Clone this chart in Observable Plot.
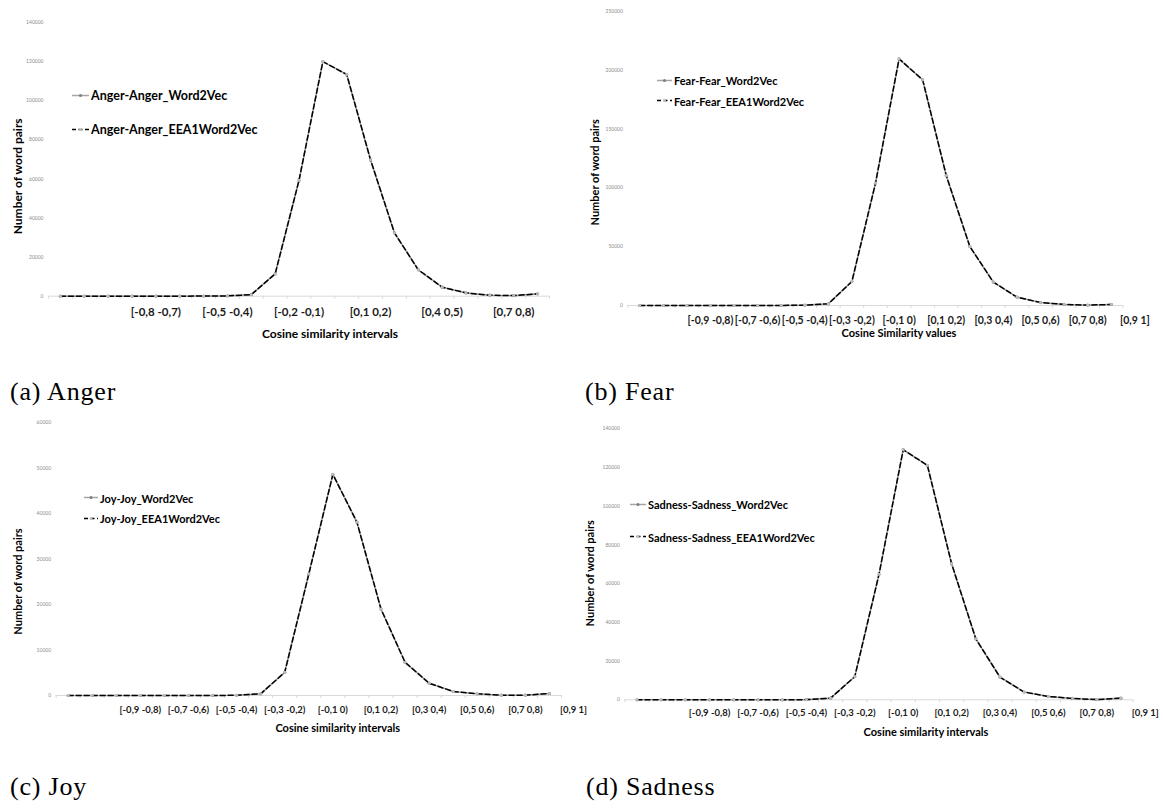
<!DOCTYPE html>
<html><head><meta charset="utf-8">
<script src="https://cdn.jsdelivr.net/npm/d3@7"></script>
<script src="https://cdn.jsdelivr.net/npm/@observablehq/plot@0.6"></script>
<style>
html,body{margin:0;padding:0;background:#fff;}
#page{position:relative;width:1163px;height:808px;overflow:hidden;font-family:Lato,sans-serif;background:#fff;}
.panel{position:absolute;}
.panel svg{overflow:visible;}
.caption{position:absolute;font-family:"Liberation Serif","Times New Roman",serif;font-size:26px;line-height:26px;letter-spacing:0.8px;color:#000;white-space:nowrap;}
.legend{position:absolute;font-family:Lato,sans-serif;font-weight:bold;color:#000;}
.legend .row{position:absolute;left:0;white-space:nowrap;display:flex;align-items:center;transform:translateY(-50%);}
.legend svg{display:block;}
</style></head>
<body><div id="page"></div>
<script>
// ---- data ----
const categoryIndex = [0,1,2,3,4,5,6,7,8,9,10,11,12,13,14,15,16,17,18,19,20];

const angerTicks = [4,7,10,13,16,19];
const angerTickLabels = ["[-0,8 -0,7)","[-0,5 -0,4)","[-0,2 -0,1)","[0,1 0,2)","[0,4 0,5)","[0,7 0,8)"];
const pairTicks = [3,5,7,9,11,13,15,17,19,21];
const pairTickLabels = ["[-0,9 -0,8)","[-0,7 -0,6)","[-0,5 -0,4)","[-0,3 -0,2)","[-0,1 0)","[0,1 0,2)","[0,3 0,4)","[0,5 0,6)","[0,7 0,8)","[0,9 1]"];

const angerYTicks = [0,20000,40000,60000,80000,100000,120000,140000];
const fearYTicks = [0,50000,100000,150000,200000,250000];
const joyYTicks = [0,10000,20000,30000,40000,50000,60000];
const sadnessYTicks = [0,20000,40000,60000,80000,100000,120000,140000];

const angerWord2Vec = [20,20,20,20,30,30,50,150,800,11400,59200,120000,113400,69700,32400,13500,4600,1700,500,300,1200];
const angerEEA1Word2Vec = [20,20,20,20,30,30,50,150,800,11400,59200,120000,113400,69700,32400,13500,4600,1700,500,300,1200];
const fearWord2Vec = [0,0,0,0,0,0,50,300,1400,20400,103900,209500,191700,110400,50100,19800,7100,2500,900,300,900];
const fearEEA1Word2Vec = [0,0,0,0,0,0,50,300,1400,20400,103900,209500,191700,110400,50100,19800,7100,2500,900,300,900];
const joyWord2Vec = [0,0,0,0,0,0,0,50,370,5100,26700,48600,38100,19000,7300,2700,880,370,70,70,440];
const joyEEA1Word2Vec = [0,0,0,0,0,0,0,50,370,5100,26700,48600,38100,19000,7300,2700,880,370,70,70,440];
const sadnessWord2Vec = [0,0,0,0,0,0,0,100,860,12000,64800,129200,121100,70300,31500,11700,4000,1700,700,100,860];
const sadnessEEA1Word2Vec = [0,0,0,0,0,0,0,100,860,12000,64800,129200,121100,70300,31500,11700,4000,1700,700,100,860];

const seriesNames = {
  anger: ["Anger-Anger_Word2Vec","Anger-Anger_EEA1Word2Vec"],
  fear: ["Fear-Fear_Word2Vec","Fear-Fear_EEA1Word2Vec"],
  joy: ["Joy-Joy_Word2Vec","Joy-Joy_EEA1Word2Vec"],
  sadness: ["Sadness-Sadness_Word2Vec","Sadness-Sadness_EEA1Word2Vec"]
};
const captions = ["(a) Anger","(b) Fear","(c) Joy","(d) Sadness"];
const xTitles = ["Cosine similarity intervals","Cosine Similarity values","Cosine similarity intervals","Cosine similarity intervals"];
const yTitle = "Number of word pairs";

// ---- layout ----
const panels = [
  {key:"anger", s1:angerWord2Vec, s2:angerEEA1Word2Vec, ticks:angerTicks, tickLabels:angerTickLabels, yTicks:angerYTicks, ymax:140000,
   left:0, top:0, w:580, h:345, mt:22, mb:49.3, ml:48, mr:31, xfs:11.5, xpad:12, xtdx:31, xtdy:37.6, xtfs:12, ytdx:-30.3, ytdy:17, ytfs:12,
   leg:{x:72, y1:95, y2:129, len:17, fs:12.5}, cap:{x:10, y:379}, xTitle:xTitles[0]},
  {key:"fear", s1:fearWord2Vec, s2:fearEEA1Word2Vec, ticks:pairTicks, tickLabels:pairTickLabels, yTicks:fearYTicks, ymax:250000,
   left:580, top:0, w:583, h:345, mt:10.7, mb:40, ml:47.4, mr:40.4, xfs:10.5, xpad:11.5, xtdx:23.5, xtdy:28, xtfs:11, ytdx:-32.4, ytdy:14, ytfs:11,
   leg:{x:657, y1:80, y2:100.7, len:15, fs:11}, cap:{x:585, y:379}, xTitle:xTitles[1]},
  {key:"joy", s1:joyWord2Vec, s2:joyEEA1Word2Vec, ticks:pairTicks, tickLabels:pairTickLabels, yTicks:joyYTicks, ymax:60000,
   left:0, top:400, w:580, h:345, mt:22, mb:50, ml:55.6, mr:19, xfs:9.5, xpad:10.5, xtdx:29, xtdy:33.3, xtfs:11, ytdx:-37.8, ytdy:22.5, ytfs:11,
   leg:{x:84, y1:497.7, y2:518.3, len:14, fs:11}, cap:{x:10, y:774}, xTitle:xTitles[2]},
  {key:"sadness", s1:sadnessWord2Vec, s2:sadnessEEA1Word2Vec, ticks:pairTicks, tickLabels:pairTickLabels, yTicks:sadnessYTicks, ymax:140000,
   left:580, top:400, w:583, h:345, mt:28.3, mb:45.7, ml:44.4, mr:30.4, xfs:9.5, xpad:9, xtdx:47, xtdy:32.4, xtfs:11, ytdx:-34, ytdy:9, ytfs:11,
   leg:{x:630, y1:504.3, y2:536.7, len:16, fs:11}, cap:{x:586, y:774}, xTitle:xTitles[3]}
];

const page = document.getElementById("page");
const boundaries = d3.range(-0.5, 21, 1);

panels.forEach((p, pi) => {
  const rows = categoryIndex.map((c, i) => ({c, a: p.s1[i], b: p.s2[i]}));
  const labelMap = new Map(p.ticks.map((t, i) => [t, p.tickLabels[i]]));
  const chart = Plot.plot({
    width: p.w, height: p.h,
    marginTop: p.mt, marginBottom: p.mb, marginLeft: p.ml, marginRight: p.mr,
    style: {fontFamily: "Lato, sans-serif", background: "transparent", overflow: "visible"},
    x: {domain: [-0.5, 20.5]},
    y: {domain: [0, p.ymax]},
    marks: [
      Plot.ruleY([0], {stroke: "#d9d9d9", strokeWidth: 1}),
      Plot.axisX({ticks: boundaries, tickSize: 3, tickFormat: () => "", color: "#d9d9d9", label: null}),
      Plot.axisX({ticks: p.ticks, tickSize: 0, tickPadding: p.xpad, tickFormat: d => labelMap.get(d),
                  fontSize: p.xfs, fontWeight: "bold", color: "#1a1a1a", label: null}),
      Plot.axisY({ticks: p.yTicks, tickSize: 0, tickPadding: 5, tickFormat: d => String(d),
                  fontSize: 5, color: "#8c8c8c", label: null}),
      Plot.line(rows, {x: "c", y: "a", stroke: "#a6a6a6", strokeWidth: 1.6}),
      Plot.line(rows, {x: "c", y: "b", stroke: "#000", strokeWidth: 1.5, strokeDasharray: "5,3"}),
      Plot.dot(rows, {x: "c", y: "a", r: 1.6, fill: "#7f7f7f"}),
      Plot.dot(rows, {x: "c", y: "b", r: 1.4, fill: "#bfbfbf"}),
      Plot.text([p.xTitle], {text: d => d, frameAnchor: "bottom", dx: p.xtdx, dy: p.xtdy, lineAnchor: "middle",
                  fontWeight: "bold", fontSize: p.xtfs, fill: "#000"}),
      Plot.text([yTitle], {text: d => d, frameAnchor: "left", rotate: -90, dx: p.ytdx, dy: p.ytdy, lineAnchor: "middle",
                  textAnchor: "middle", fontWeight: "bold", fontSize: p.ytfs, fill: "#000"})
    ]
  });
  const holder = document.createElement("div");
  holder.className = "panel";
  holder.style.left = p.left + "px";
  holder.style.top = p.top + "px";
  holder.appendChild(chart);
  page.appendChild(holder);

  // legend
  const names = seriesNames[p.key];
  const leg = document.createElement("div");
  leg.className = "legend";
  leg.style.left = p.leg.x + "px";
  leg.style.top = "0px";
  leg.style.fontSize = p.leg.fs + "px";
  const L = p.leg.len;
  const sw = [
    `<svg width="${L+2}" height="8"><line x1="0" y1="4" x2="${L}" y2="4" stroke="#a6a6a6" stroke-width="1.5"/><circle cx="${L/2}" cy="4" r="1.5" fill="#7f7f7f"/></svg>`,
    `<svg width="${L+2}" height="8"><line x1="0" y1="4" x2="${L}" y2="4" stroke="#000" stroke-width="1.5" stroke-dasharray="4,2.5"/><circle cx="${L/2}" cy="4" r="1.4" fill="#bfbfbf"/></svg>`
  ];
  [p.leg.y1, p.leg.y2].forEach((yy, k) => {
    const r = document.createElement("div");
    r.className = "row";
    r.style.top = yy + "px";
    r.innerHTML = sw[k] + `<span>${names[k]}</span>`;
    leg.appendChild(r);
  });
  page.appendChild(leg);

  // caption
  const cap = document.createElement("div");
  cap.className = "caption";
  cap.style.left = p.cap.x + "px";
  cap.style.top = p.cap.y + "px";
  cap.textContent = captions[pi];
  page.appendChild(cap);
});
</script>
</body></html>
